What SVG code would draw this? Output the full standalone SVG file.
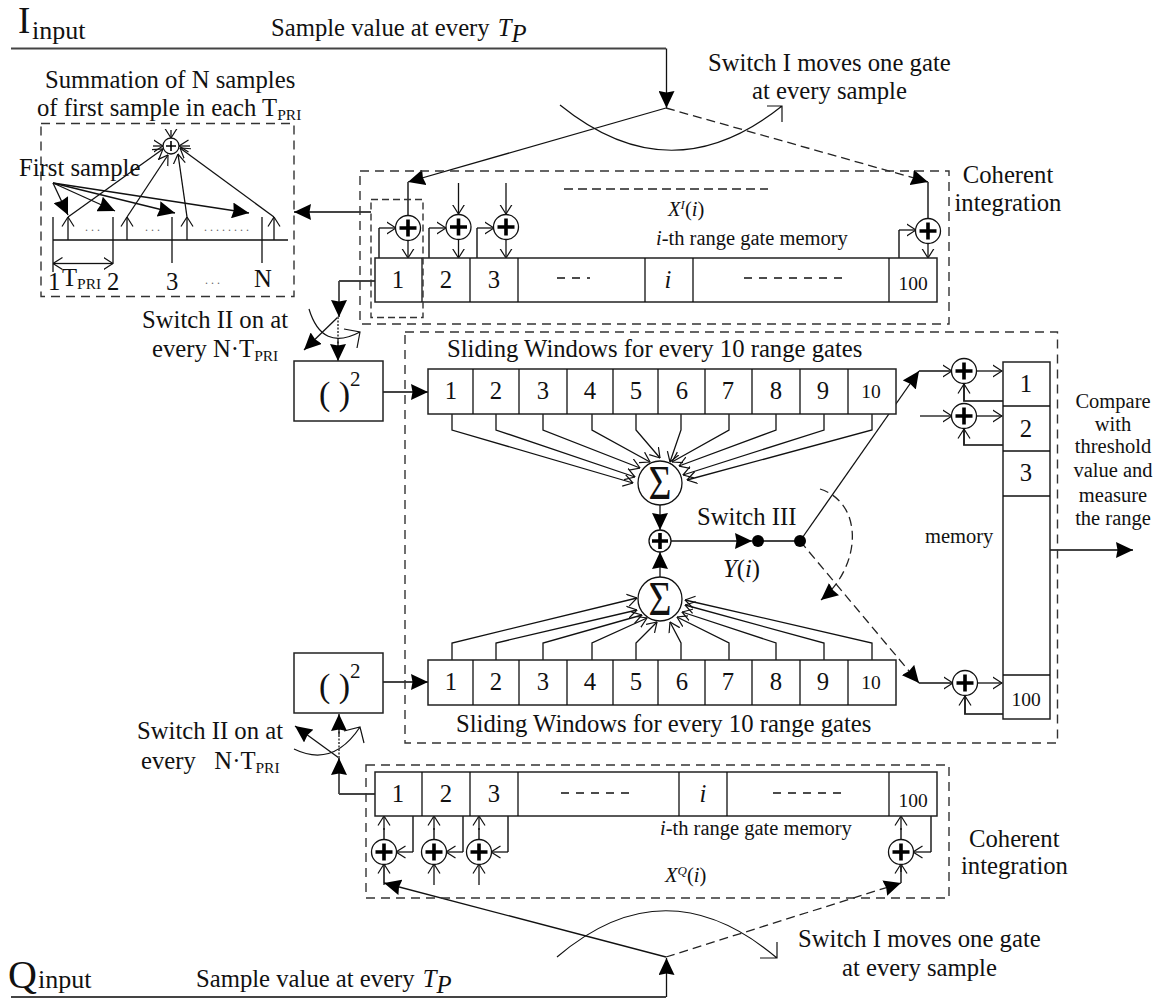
<svg xmlns="http://www.w3.org/2000/svg" xmlns:xlink="http://www.w3.org/1999/xlink" width="1156" height="998" viewBox="0 0 1156 998">
<style>
text{font-family:"Liberation Serif","Times New Roman",serif;fill:#111;font-size:24.7px}
.s{font-size:20.5px}.b{font-size:19.5px}.c{text-anchor:middle}.i{font-style:italic}
.l,.g,.d,.box,.dd,.dot,.arc{fill:none;stroke-linejoin:miter}
.l{stroke:#111;stroke-width:1.3}
.g{stroke:#444;stroke-width:1.8}
.d{stroke:#222;stroke-width:1.3;stroke-dasharray:9 5}
.dd{stroke:#333;stroke-width:1.4;stroke-dasharray:9 6}
.dot{stroke:#666;stroke-width:2;stroke-dasharray:2 1.5}
.arc{stroke:#111;stroke-width:1.2}
.box{stroke:#222;stroke-width:1.5;fill:#fff}
.sum{fill:#fff;stroke:#111;stroke-width:1.3}
.pl{stroke:#000;stroke-width:3.6;fill:none}
.f{marker-end:url(#f)}.o{marker-end:url(#o)}
.dt{font-size:12px;fill:#666}
.sg{font-size:48px}
</style>
<defs>
<marker id="f" viewBox="0 0 17 16" refX="17" refY="8" markerWidth="17" markerHeight="16" markerUnits="userSpaceOnUse" orient="auto"><path d="M0 0L17 8L0 16L1.500 8Z" fill="#000"/></marker>
<marker id="o" viewBox="0 0 10 14" refX="9.5" refY="7" markerWidth="10" markerHeight="14" markerUnits="userSpaceOnUse" orient="auto"><path d="M0 1L9.5 7L0 13" fill="none" stroke="#111" stroke-width="1.2"/></marker>
<g id="plus"><circle class="sum" r="12.5"/><path class="pl" d="M-8.5 0H8.5M0 -8.5V8.5"/></g>
</defs>

<g id="connectors">
<path class="g" d="M11 48.5H666"/>
<path class="l f" d="M666.500 48.500V108"/>
<path class="l f" d="M666 108L408 182"/>
<path class="d f" d="M666 108L928 182"/>
<path class="arc" d="M560 105Q671 195 782 106M767 106H782V122"/>
<path class="g" d="M408 182V216"/>
<path class="l o" d="M408 240V258"/>
<path class="g" d="M379 258V228"/><path class="l o" d="M379 228H396"/>
<path class="l o" d="M458.500 183V214"/>
<path class="l o" d="M458.500 240V258"/>
<path class="g" d="M429 258V228"/><path class="l o" d="M429 228H446"/>
<path class="l o" d="M506 183V214"/>
<path class="l o" d="M506 240V258"/>
<path class="g" d="M477 258V228"/><path class="l o" d="M477 228H494"/>
<path class="g" d="M928 182V218"/>
<path class="l o" d="M928 243V258"/>
<path class="g" d="M899 258V230"/><path class="l o" d="M899 230H916"/>
<path class="d" d="M564 189H768"/>
<path class="g f" d="M371 212H294"/>
<path class="l" d="M53 240H288M53 217V272M113 217V263M172 217V263M262 217V263"/>
<path class="l o" d="M68 240V217"/><path class="l o" d="M127 240V217"/><path class="l o" d="M187 240V217"/><path class="l o" d="M274 240V217"/>
<path class="l o" d="M68 217L163 149"/><path class="l o" d="M127 217L168 155"/><path class="l o" d="M187 217L178 154"/><path class="l o" d="M274 217L180 148"/>
<path class="l o" d="M171 130V138"/>
<path class="l o" d="M153 146H163"/><path class="l o" d="M190 146H179"/>
<path class="l f" d="M53 183L68 215"/><path class="l f" d="M53 183L115 211"/><path class="l f" d="M53 183L175 213"/><path class="l f" d="M53 183L249 213"/>
<path class="l o" d="M83 263.500H53"/><path class="l o" d="M83 263.500H113"/>
<path class="g" d="M375 281H339"/><path class="g f" d="M339 281V317"/>
<path class="l f" d="M338 317L304 350"/>
<path class="dot" d="M338 317V347"/><path class="l f" d="M338 340V361"/>
<path class="arc" d="M309 309Q322 352 360 332M344 329L360 332L357 348"/>
<path class="g f" d="M383 392H428"/>
<path class="l o" d="M452 414V430L633 483"/><path class="l o" d="M496 414V430L635 477"/><path class="l o" d="M543 414V430L640 468"/><path class="l o" d="M592 414V430L650 462"/><path class="l o" d="M636 414V430L660 458"/><path class="l o" d="M681 414V430L670 462"/><path class="l o" d="M729 414V430L672 462"/><path class="l o" d="M776 414V430L679 466"/><path class="l o" d="M824 414V430L683 475"/><path class="l o" d="M872 414V430L687 480"/>
<path class="l o" d="M452 660V643L637 598"/><path class="l o" d="M496 660V643L637 610"/><path class="l o" d="M543 660V643L642 615"/><path class="l o" d="M592 660V643L647 618"/><path class="l o" d="M636 660V643L657 622"/><path class="l o" d="M681 660V643L670 622"/><path class="l o" d="M729 660V643L677 617"/><path class="l o" d="M776 660V643L682 612"/><path class="l o" d="M824 660V643L685 605"/><path class="l o" d="M872 660V643L685 600"/>
<path class="l f" d="M660 505V530"/>
<path class="l f" d="M660 577V552"/>
<path class="l f" d="M671 541H752"/>
<path class="g" d="M758 541H800"/>
<path class="l f" d="M800 541L919 371"/>
<path class="d f" d="M800 541L919 683"/>
<path class="d f" d="M820 489C864 503 862 566 821 600"/>
<path class="l o" d="M919 371H952"/>
<path class="l o" d="M977 371H1002"/>
<path class="g" d="M1003 401H964V384"/><path class="l o" d="M964 401V384"/>
<path class="l o" d="M920 416H952"/>
<path class="l o" d="M977 416H1002"/>
<path class="g" d="M1003 445H964V429"/><path class="l o" d="M964 445V429"/>
<path class="l o" d="M919 683H953"/>
<path class="l o" d="M978 683H1002"/>
<path class="g" d="M1003 714H965V696"/><path class="l o" d="M965 714V696"/>
<path class="g f" d="M1050 550H1133"/>
<path class="g f" d="M383 682H428"/>
<path class="g" d="M375 794H339"/><path class="g f" d="M339 794V758"/>
<path class="l f" d="M339 758L295 726"/>
<path class="dot" d="M339 758V728"/><path class="l f" d="M339 735V714"/>
<path class="arc" d="M294 749Q333 768 360 727M344 731L360 727L364 743"/>
<path class="g" d="M384 840V828"/><path class="l o" d="M384 830V816"/>
<path class="l o" d="M384 885V864"/>
<path class="g" d="M413 816V852"/><path class="l o" d="M413 852H396"/>
<path class="g" d="M434 840V828"/><path class="l o" d="M434 830V816"/>
<path class="l o" d="M434 885V864"/>
<path class="g" d="M463 816V852"/><path class="l o" d="M463 852H446"/>
<path class="g" d="M479 840V828"/><path class="l o" d="M479 830V816"/>
<path class="l o" d="M479 885V864"/>
<path class="g" d="M508 816V852"/><path class="l o" d="M508 852H491"/>
<path class="g" d="M901 840V828"/><path class="l o" d="M901 830V816"/>
<path class="g" d="M901 883V866"/><path class="l o" d="M901 872V864"/>
<path class="g" d="M931 816V852"/><path class="l o" d="M931 852H913"/>
<path class="g" d="M384 883V866"/>
<path class="l f" d="M666 957L384 883"/>
<path class="d f" d="M666 957L901 883"/>
<path class="arc" d="M557 957Q666 864 777 958M760 958H777V942"/>
<path class="l f" d="M666.500 997V958"/>
<path class="g" d="M11 997H666"/>
</g>

<g id="dashed-frames">
<rect class="dd" x="41" y="123.500" width="253" height="173"/>
<rect class="dd" x="360" y="171" width="589" height="153"/>
<rect class="dd" x="405" y="332" width="652.500" height="411"/>
<rect class="dd" x="366" y="765" width="583" height="133"/>
</g>

<g id="gates-i">
<rect class="box" x="375" y="258" width="562" height="44"/>
<path class="l" d="M422 258V302M470 258V302M518 258V302M645 258V302M693 258V302M889 258V302"/>
<path class="l" d="M557 278H590M744 278H845" style="stroke-dasharray:8 7"/>
<text class="c" x="398" y="288">1</text><text class="c" x="446" y="288">2</text><text class="c" x="494" y="288">3</text><text class="c i" x="668" y="288">i</text><text class="c b" x="913" y="290">100</text>
</g>
<rect id="first-sample-window" class="dd" x="371" y="199.500" width="52" height="118" style="stroke-dasharray:7 4"/>
<g id="gates-q">
<rect class="box" x="375" y="772" width="562" height="44"/>
<path class="l" d="M422 772V816M470 772V816M518 772V816M679 772V816M727 772V816M889 772V816"/>
<path class="l" d="M561 793H632M773 793H843" style="stroke-dasharray:8 7"/>
<text class="c" x="398" y="802">1</text><text class="c" x="446" y="802">2</text><text class="c" x="494" y="802">3</text><text class="c i" x="703" y="802">i</text><text class="c b" x="913" y="807">100</text>
</g>
<g id="window-top">
<rect class="box" x="428" y="369" width="468" height="45"/>
<path class="l" d="M473 369V414M519 369V414M567 369V414M613 369V414M658 369V414M705 369V414M752 369V414M800 369V414M848 369V414"/>
<text class="c" x="451" y="399">1</text><text class="c" x="496" y="399">2</text><text class="c" x="543" y="399">3</text><text class="c" x="590" y="399">4</text><text class="c" x="636" y="399">5</text><text class="c" x="682" y="399">6</text><text class="c" x="728" y="399">7</text><text class="c" x="776" y="399">8</text><text class="c" x="823" y="399">9</text><text class="c b" x="871" y="398">10</text>
</g>
<g id="window-bottom">
<rect class="box" x="428" y="660" width="468" height="45"/>
<path class="l" d="M473 660V705M519 660V705M567 660V705M613 660V705M658 660V705M705 660V705M752 660V705M800 660V705M848 660V705"/>
<text class="c" x="451" y="690">1</text><text class="c" x="496" y="690">2</text><text class="c" x="543" y="690">3</text><text class="c" x="590" y="690">4</text><text class="c" x="636" y="690">5</text><text class="c" x="682" y="690">6</text><text class="c" x="728" y="690">7</text><text class="c" x="776" y="690">8</text><text class="c" x="823" y="690">9</text><text class="c b" x="871" y="689">10</text>
</g>
<g id="memory">
<rect class="box" x="1003" y="362" width="47" height="357"/>
<path class="l" d="M1003 406H1050M1003 451H1050M1003 496H1050M1003 675H1050"/>
<text class="c" x="1026" y="392">1</text><text class="c" x="1026" y="437">2</text><text class="c" x="1026" y="481">3</text><text class="c b" x="1026" y="706">100</text>
</g>
<g id="square-top"><rect class="box" x="294" y="361" width="89" height="60"/><text x="319" y="405" style="font-size:34px">( )</text><text x="350" y="386" style="font-size:21px">2</text></g>
<g id="square-bottom"><rect class="box" x="294" y="653" width="89" height="60"/><text x="319" y="697" style="font-size:34px">( )</text><text x="350" y="678" style="font-size:21px">2</text></g>

<g id="sum-i1"><use href="#plus" x="408" y="228"/></g>
<g id="sum-i2"><use href="#plus" x="458.500" y="227"/></g>
<g id="sum-i3"><use href="#plus" x="506" y="227"/></g>
<g id="sum-i100"><use href="#plus" x="928" y="231"/></g>
<g id="sum-q1"><use href="#plus" x="384" y="852"/></g>
<g id="sum-q2"><use href="#plus" x="434" y="852"/></g>
<g id="sum-q3"><use href="#plus" x="479" y="852"/></g>
<g id="sum-q100"><use href="#plus" x="901" y="852"/></g>
<g id="sum-m1"><use href="#plus" x="964" y="371"/></g>
<g id="sum-m2"><use href="#plus" x="964" y="416"/></g>
<g id="sum-m100"><use href="#plus" x="965" y="683"/></g>
<g id="sum-center"><circle class="sum" cx="660" cy="541" r="11"/><path class="pl" d="M652 541H668M660 533V549"/></g>
<g id="sum-detail"><circle class="sum" cx="171" cy="146" r="8"/><path d="M166 146H176M171 141V151" stroke="#000" stroke-width="1.6"/></g>
<g id="sigma-top"><circle class="sum" cx="660" cy="483" r="22"/><text class="c sg" x="660" y="499" textLength="23" lengthAdjust="spacingAndGlyphs">Σ</text></g>
<g id="sigma-bottom"><circle class="sum" cx="660" cy="599" r="22"/><text class="c sg" x="660" y="615" textLength="23" lengthAdjust="spacingAndGlyphs">Σ</text></g>
<g id="switch-iii"><circle cx="758" cy="541" r="6" fill="#000"/><circle cx="800" cy="541" r="6" fill="#000"/></g>

<g id="labels">
<text x="18" y="33" style="font-size:37px">I</text><text x="32" y="39" style="font-size:26px">input</text>
<text x="271" y="36">Sample value at every <tspan class="i" dx="2">T</tspan><tspan class="i" dy="6">P</tspan></text>
<text x="708" y="71">Switch I moves one gate</text>
<text x="752" y="99">at every sample</text>
<text x="45" y="88">Summation of N samples</text>
<text x="37" y="116">of first sample in each T<tspan dy="4" style="font-size:15.500px">PRI</tspan></text>
<text x="19" y="176">First sample</text>
<text x="48" y="290">1</text><text x="62" y="286">T<tspan dy="3" style="font-size:15.500px">PRI</tspan></text><text x="107" y="290">2</text><text x="166" y="290">3</text><text x="254" y="287">N</text>
<text x="85" y="231" class="dt">. . .</text><text x="145" y="231" class="dt">. . .</text><text x="204" y="231" class="dt">. . . . . . . .</text><text x="205" y="284" class="dt">. . .</text>
<text x="668" y="216" class="s"><tspan class="i">X</tspan><tspan class="i" dy="-7" style="font-size:13px">I</tspan><tspan dy="7">(</tspan><tspan class="i">i</tspan>)</text>
<text x="656" y="245" class="s"><tspan class="i">i</tspan>-th range gate memory</text>
<text x="1008" y="183" class="c">Coherent</text><text x="1008" y="211" class="c">integration</text>
<text x="142" y="328">Switch II on at</text>
<text x="152" y="357">every N·T<tspan dy="4" style="font-size:15.500px">PRI</tspan></text>
<text x="447" y="357">Sliding Windows for every 10 range gates</text>
<text x="456" y="732">Sliding Windows for every 10 range gates</text>
<text x="697" y="525">Switch III</text>
<text x="723" y="577"><tspan class="i">Y</tspan>(<tspan class="i">i</tspan>)</text>
<text x="925" y="543" class="s">memory</text>
<text class="c s" x="1113" y="408">Compare</text><text class="c s" x="1113" y="431">with</text><text class="c s" x="1113" y="453">threshold</text><text class="c s" x="1113" y="477">value and</text><text class="c s" x="1113" y="502">measure</text><text class="c s" x="1113" y="525">the range</text>
<text x="137" y="739">Switch II on at</text>
<text x="141" y="769" xml:space="preserve">every   N·T<tspan dy="4" style="font-size:15.500px">PRI</tspan></text>
<text x="660" y="835" class="s"><tspan class="i">i</tspan>-th range gate memory</text>
<text x="665" y="882" class="s"><tspan class="i">X</tspan><tspan class="i" dy="-7" style="font-size:13px">Q</tspan><tspan dy="7">(</tspan><tspan class="i">i</tspan>)</text>
<text x="969" y="847">Coherent</text><text x="961" y="874">integration</text>
<text x="798" y="947">Switch I moves one gate</text>
<text x="842" y="976">at every sample</text>
<text x="8" y="988" style="font-size:40px">Q</text><text x="38" y="988" style="font-size:26px">input</text>
<text x="196" y="987">Sample value at every <tspan class="i" dx="2">T</tspan><tspan class="i" dy="6">P</tspan></text>
</g>
</svg>
